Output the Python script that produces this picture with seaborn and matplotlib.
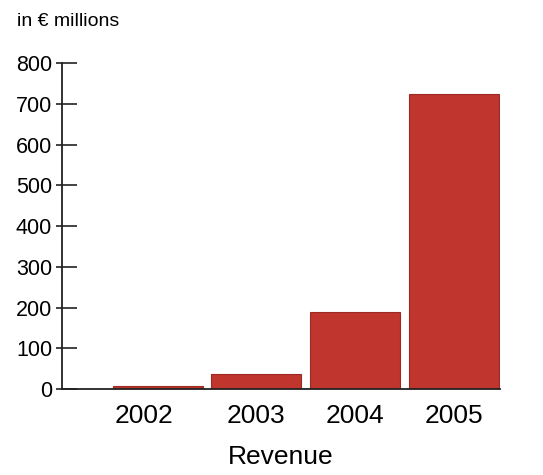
import pandas as pd
import seaborn as sns
from matplotlib import pyplot as plt
from matplotlib import ticker
from matplotlib.transforms import ScaledTranslation

# revenue per year, in EUR millions
years = ["2002", "2003", "2004", "2005"]
revenue = [7, 37, 189, 724]

df = pd.DataFrame({"year": years, "revenue": revenue})

sns.set_style("white")
plt.rcParams['font.family'] = ['Liberation Sans', 'DejaVu Sans']
plt.rcParams['text.color'] = 'black'

fig = plt.figure(figsize=(5.43, 4.75), dpi=100)
ax = fig.add_axes([0.114, 0.181, 0.807, 0.686])

sns.barplot(data=df, x="year", y="revenue", color="#c0352d", saturation=1,
            width=0.91, edgecolor="#9a2a22", linewidth=0.8, ax=ax)

ax.set_xlim(-0.97, 3.47)
ax.set_ylim(0, 800)
ax.set_yticks(range(0, 801, 100))
ax.set_xlabel("Revenue", fontsize=19, labelpad=12, color="black")
ax.set_ylabel("")

# ticks cross the spine: long inside, short outside
ax.yaxis.set_minor_locator(ticker.FixedLocator(range(0, 801, 100)))
ax.yaxis.remove_overlapping_locs = False
ax.tick_params(axis="y", which="major", left=True, direction="in", length=11,
               width=1.2, labelsize=15.5, pad=7, labelcolor="black", color="#222222")
ax.tick_params(axis="y", which="minor", left=True, direction="out", length=4,
               width=1.2, color="#222222")
ax.tick_params(axis="x", length=0, labelsize=19, pad=11, labelcolor="black")

# first year label sits a bit left of its bar
lab = ax.get_xticklabels()[0]
lab.set_transform(lab.get_transform() + ScaledTranslation(-14 / 100, 0, fig.dpi_scale_trans))

for s in ["top", "right"]:
    ax.spines[s].set_visible(False)
for s in ["left", "bottom"]:
    ax.spines[s].set_color("#222222")
    ax.spines[s].set_linewidth(1.3)

fig.text(0.031, 0.955, "in € millions", fontsize=14, va="center", ha="left")

fig.savefig("out.png", dpi=100)
